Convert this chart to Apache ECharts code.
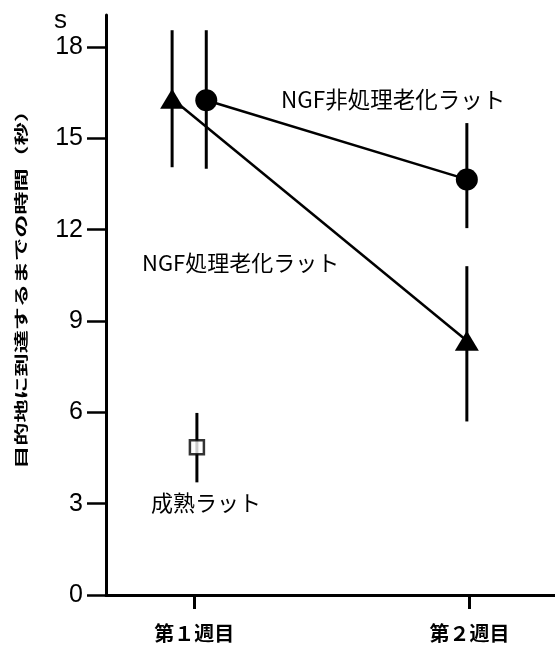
<!DOCTYPE html>
<html>
<head>
<meta charset="utf-8">
<script src="https://cdn.jsdelivr.net/npm/echarts@6/dist/echarts.min.js"></script>
<style>html,body{margin:0;padding:0;background:#fff}#c{width:555px;height:646px}</style>
</head>
<body>
<div id="c"></div>
<script>
// ---- data ----
var weekLabels = ['第１週目', '第２週目'];
var weekPos = [1, 2];
var yTicks = [0, 3, 6, 9, 12, 15, 18];

// NGF非処理老化ラット (circles)
var untreatedX = [1.044, 1.99];
var untreatedMean = [16.25, 13.65];
var untreatedLow = [14.0, 12.05];
var untreatedHigh = [18.55, 15.5];

// NGF処理老化ラット (triangles)
var treatedX = [0.92, 1.99];
var treatedMean = [16.3, 8.35];
var treatedLow = [14.05, 5.7];
var treatedHigh = [18.55, 10.8];

// 成熟ラット (open square)
var adultX = [1.01];
var adultMean = [4.85];
var adultLow = [3.7];
var adultHigh = [5.98];

function pts(xs, ys) { return xs.map(function (x, i) { return [x, ys[i]]; }); }
function errs(xs, lo, hi) { return xs.map(function (x, i) { return [x, lo[i], hi[i]]; }); }

var errData = errs(untreatedX, untreatedLow, untreatedHigh)
  .concat(errs(treatedX, treatedLow, treatedHigh))
  .concat(errs(adultX, adultLow, adultHigh));

var chart = echarts.init(document.getElementById('c'), null, { renderer: 'canvas' });
var jp = '"Noto Sans CJK JP", sans-serif';
var lat = '"Liberation Sans", Arial, sans-serif';

chart.setOption({
  animation: false,
  backgroundColor: '#fff',
  grid: { left: 106, right: 0, top: 15, bottom: 51, containLabel: false },
  xAxis: {
    type: 'value', min: 0.68, max: 2.31,
    axisLine: { show: true, onZero: false, lineStyle: { color: '#000', width: 3 } },
    axisTick: { show: true, length: 14, customValues: weekPos, lineStyle: { color: '#000', width: 3 } },
    axisLabel: {
      customValues: weekPos, margin: 28, color: '#000',
      fontFamily: jp, fontSize: 20, fontWeight: 'bold',
      formatter: function (v) { return weekLabels[weekPos.indexOf(Math.round(v))] || ''; }
    },
    splitLine: { show: false }
  },
  yAxis: {
    type: 'value', min: 0, max: 19.05,
    axisLine: { show: true, lineStyle: { color: '#000', width: 3 } },
    axisTick: { show: true, length: 19, customValues: yTicks, lineStyle: { color: '#000', width: 2.5 } },
    axisLabel: {
      customValues: yTicks, margin: 23, color: '#000',
      fontFamily: lat, fontSize: 25
    },
    splitLine: { show: false }
  },
  graphic: [
    { type: 'text', left: 54, top: 8, style: { text: 's', fontSize: 26, fontFamily: lat, fill: '#000' } },
    { type: 'text', x: 21, y: 284, rotation: Math.PI / 2, scaleX: 1.65,
      style: { text: '目的地に到達するまでの時間（秒）', fontSize: 14, fontWeight: 'bold', fontFamily: jp, fill: '#000', align: 'center', verticalAlign: 'middle' } },
    { type: 'text', left: 281, top: 88, style: { text: 'NGF非処理老化ラット', fontSize: 22.5, fontFamily: jp, fill: '#000' } },
    { type: 'text', left: 142, top: 252, style: { text: 'NGF処理老化ラット', fontSize: 22, fontFamily: jp, fill: '#000' } },
    { type: 'text', left: 151, top: 492, style: { text: '成熟ラット', fontSize: 22, fontFamily: jp, fill: '#000' } }
  ],
  series: [
    {
      type: 'custom', z: 2,
      renderItem: function (params, api) {
        var a = api.coord([api.value(0), api.value(1)]);
        var b = api.coord([api.value(0), api.value(2)]);
        return { type: 'line', shape: { x1: a[0], y1: a[1], x2: b[0], y2: b[1] }, style: { stroke: '#000', lineWidth: 3 } };
      },
      encode: { x: 0, y: [1, 2] },
      data: errData
    },
    {
      type: 'line', data: pts(untreatedX, untreatedMean), z: 3,
      lineStyle: { color: '#000', width: 2.5 }, symbol: 'circle', symbolSize: 22,
      itemStyle: { color: '#000' }
    },
    {
      type: 'line', data: pts(treatedX, treatedMean), z: 3,
      lineStyle: { color: '#000', width: 2.5 }, symbol: 'triangle', symbolSize: [24, 20],
      itemStyle: { color: '#000' }
    },
    {
      type: 'scatter', data: pts(adultX, adultMean), z: 4,
      symbol: 'rect', symbolSize: 14,
      itemStyle: { color: '#fff', borderColor: '#000', borderWidth: 2.5 }
    }
  ]
});
</script>
</body>
</html>
